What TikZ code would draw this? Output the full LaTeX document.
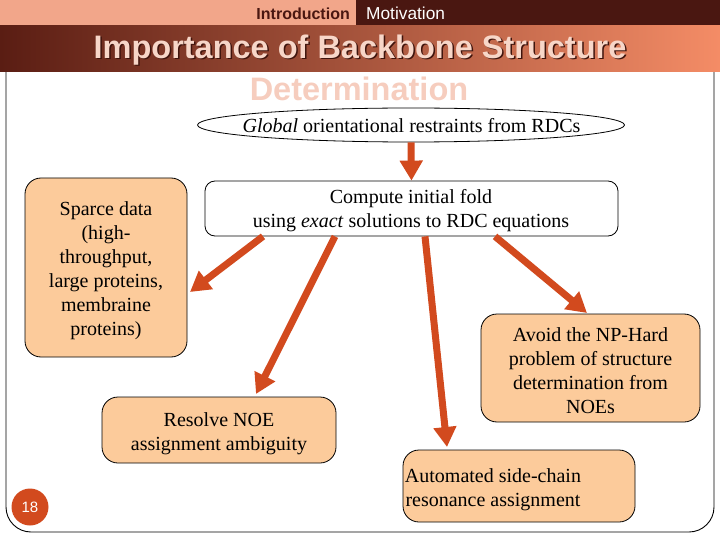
\documentclass[tikz,border=0pt]{standalone}
\usepackage{fontspec}
\setmainfont{Liberation Serif}
\newfontfamily\headfont{Liberation Sans}
\usetikzlibrary{arrows.meta,shapes.geometric,shadows}
\definecolor{barsalmon}{HTML}{F2A68A}
\definecolor{bardark}{HTML}{4A1711}
\definecolor{bandleft}{HTML}{5A1D13}
\definecolor{bandright}{HTML}{F48C66}
\definecolor{titlepink}{HTML}{F7D6C8}
\definecolor{fadepink}{HTML}{F6CDBE}
\definecolor{boxfill}{HTML}{FCCB9B}
\definecolor{arrowc}{HTML}{D24A1E}
\tikzset{
  box/.style={draw=black, line width=0.8pt, fill=boxfill, rounded corners=16pt, inner sep=0pt},
  bigarrow/.style={line width=7pt, arrowc, -{Triangle[width=22pt,length=20pt]}, shorten >=0pt},
  txt/.style={align=center, font=\fontsize{20}{24}\selectfont, inner sep=0pt},
  titlefont/.style={font=\headfont\bfseries\fontsize{32.5}{36}\selectfont, inner sep=0pt}
}
\begin{document}
\begin{tikzpicture}[x=1pt,y=-1pt]
\useasboundingbox (0,0) rectangle (720,540);
% frame
\draw[line width=0.9pt, rounded corners=25pt] (6,72) -- (6,532) -- (714,532) -- (714,72);
% top bar
\fill[barsalmon] (0,0) rectangle (720,26);
\fill[bardark] (356,0) rectangle (720,26);
\node[anchor=east, inner sep=0pt, font=\headfont\bfseries\fontsize{16}{18}\selectfont, text=bardark] (intro) at (350,13.5) {Introduction};
\node[anchor=west, inner sep=0pt, font=\headfont\fontsize{17.3}{18}\selectfont, text=white] (motiv) at (366,13.5) {Motivation};
% title band
\shade[left color=bandleft, right color=bandright] (0,26) rectangle (720,72);
\node[titlefont, text=bandleft!70!black] at (361.5,51.5) {Importance of Backbone Structure};
\node[titlefont, text=titlepink] (title) at (360,50) {Importance of Backbone Structure};
\node[titlefont, text=fadepink] (title2) at (359,89) {Determination};
% ellipse
\node[draw=black, line width=0.8pt, fill=white, ellipse, minimum width=427pt, minimum height=34pt, inner sep=0pt] (glob) at (411,125) {};
\node[txt] (globtxt) at (411.5,126) {\textit{Global} orientational restraints from RDCs};
% compute box
\node[draw=black, line width=0.8pt, fill=white, rounded corners=10pt, minimum width=413pt, minimum height=55pt, inner sep=0pt] (comp) at (411.5,208.5) {};
\node[txt] (comptxt) at (411,211) {Compute initial fold\\using \textit{exact} solutions to RDC equations};
% boxes
\node[box, minimum width=162pt, minimum height=179pt] (sparse) at (106,267.5) {};
\node[txt] (sparsetxt) at (106,270.5) {Sparce data\\(high-\\throughput,\\large proteins,\\membraine\\proteins)};
\node[box, minimum width=234pt, minimum height=66pt] (resolve) at (219,430) {};
\node[txt] (resolvetxt) at (219,433.5) {Resolve NOE\\assignment ambiguity};
\node[box, minimum width=219pt, minimum height=108pt] (avoid) at (590.5,368) {};
\node[txt] (avoidtxt) at (590.5,370.5) {Avoid the NP-Hard\\problem of structure\\determination from\\NOEs};
\node[box, minimum width=232pt, minimum height=72pt] (auto) at (519,486) {};
\node[txt] (autotxt) at (493,490) {Automated side-chain\\resonance assignment};
% arrows
\coordinate (t1) at (190,292);
\coordinate (t2) at (256,394);
\coordinate (t3) at (447,447);
\coordinate (t4) at (587,313);
\draw[bigarrow] (glob.south) -- (comp.north);
\draw[bigarrow] (comp.south -| 263,0) -- (t1);
\draw[bigarrow] (comp.south -| 335,0) -- (t2);
\draw[bigarrow] (comp.south -| 425,0) -- (t3);
\draw[bigarrow] (comp.south -| 495,0) -- (t4);
% page number
\node[circle, fill=arrowc, minimum size=37pt, inner sep=0pt, text=white, font=\headfont\fontsize{15}{16}\selectfont] (pg) at (30,507) {18};
\end{tikzpicture}
\end{document}
